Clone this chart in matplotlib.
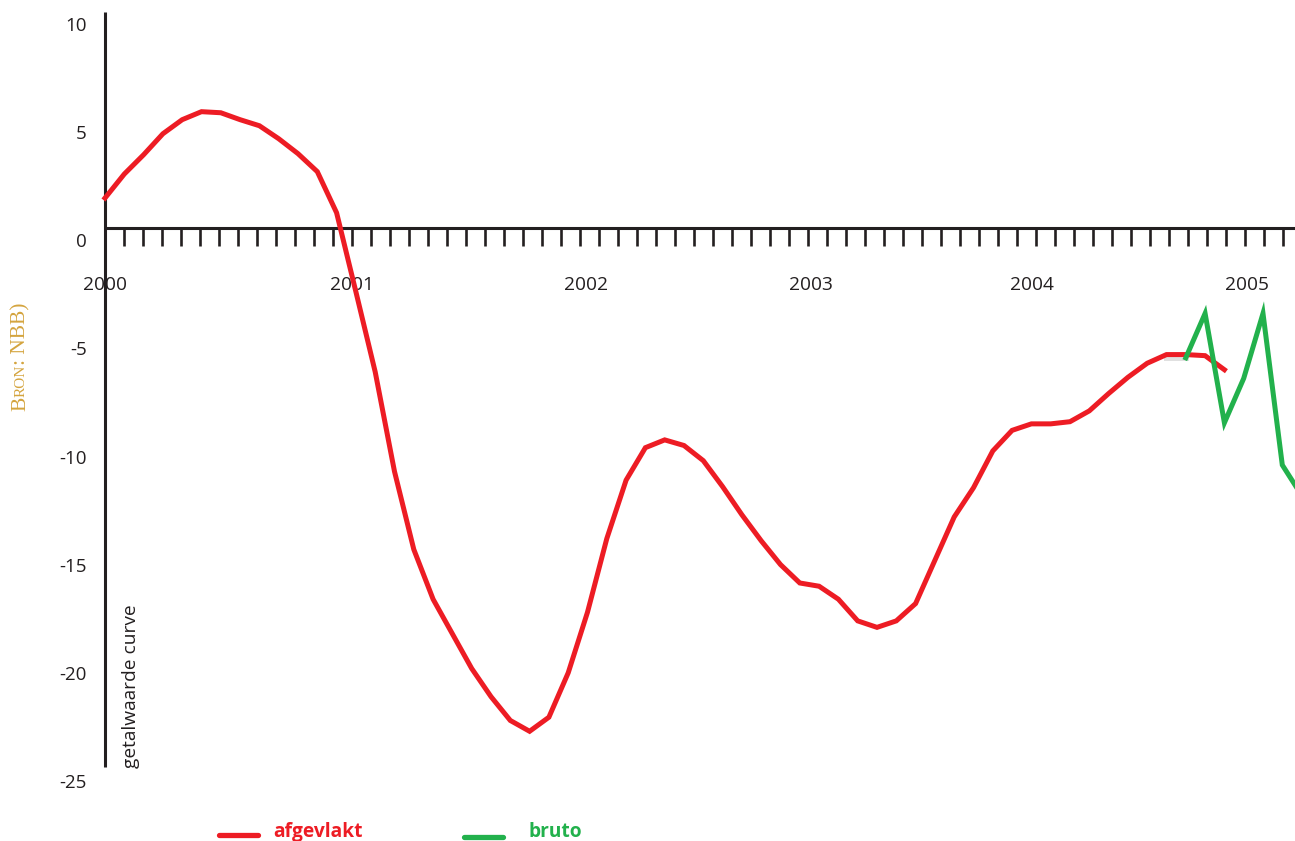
import matplotlib
matplotlib.use("Agg")
import matplotlib.pyplot as plt
from matplotlib.lines import Line2D
import numpy as np

# ---------------- data ----------------
afgevlakt = [2.03, 3.14, 4.03, 5.0, 5.65, 6.02, 5.97, 5.65, 5.37, 4.77, 4.08, 3.25, 1.35,
             -2.3, -6.0, -10.6, -14.2, -16.5, -18.1, -19.7, -21.0, -22.1, -22.6, -21.95,
             -19.9, -17.1, -13.7, -11.0, -9.5, -9.14, -9.4, -10.1, -11.3, -12.6, -13.8,
             -14.9, -15.75, -15.9, -16.5, -17.5, -17.8, -17.5, -16.7, -14.7, -12.7, -11.35,
             -9.65, -8.7, -8.4, -8.4, -8.3, -7.8, -7.0, -6.25, -5.6, -5.2, -5.2, -5.25, -5.9]
bruto_start = 56
bruto = [-5.35, -3.3, -8.35, -6.3, -3.3, -10.3, -11.7]
years = ["2000", "2001", "2002", "2003", "2004", "2005"]
y_ticks = [10, 5, 0, -5, -10, -15, -20, -25]

RED = "#ED1C24"
GREEN = "#22B14C"
BLACK = "#231F20"
GOLD = "#D4A43E"

plt.rcParams["font.family"] = ["Open Sans", "DejaVu Sans"]

W, H = 1295, 841
fig = plt.figure(figsize=(W / 100, H / 100), dpi=100)
ax = fig.add_axes([0, 0, 1, 1])
ax.axis("off")

# pixel <-> data layout helpers
X0, SX = 105.0, 19.3   # x pixel of first month, pixels per month
Y0, SY = 242.0, 21.65  # y pixel of value 0, pixels per unit


def px2x(px):
    return (px - X0) / SX


def py2y(py):
    return (Y0 - py) / SY


ax.set_xlim(px2x(0), px2x(W))
ax.set_ylim(py2y(H), py2y(0))

# axes lines
ax.plot([0, 0], [py2y(12), py2y(767)], color=BLACK, lw=2.2, solid_capstyle="butt", zorder=2)
h = py2y(227.5)
ax.plot([0, px2x(W)], [h, h], color=BLACK, lw=2.2, solid_capstyle="butt", zorder=2)
tick_x = np.arange(1, 63) * 19.0 / SX
ax.vlines(tick_x, py2y(246), h, color=BLACK, lw=1.9, zorder=2)

# y tick labels
for v in y_ticks:
    ax.text(px2x(87), v, f"{v}", ha="right", va="center", fontsize=13.5, color=BLACK)

# year labels
year_px = [105, 351.7, 586, 811, 1031.7, 1246.7]
for lab, px in zip(years, year_px):
    ax.text(px2x(px), py2y(285), lab, ha="center", va="center", fontsize=13.8, color=BLACK)

# data lines
xa = np.arange(len(afgevlakt))
xb = np.arange(bruto_start, bruto_start + len(bruto))
ax.plot(xb[:1] + np.array([-1, 0]), [bruto[0], bruto[0]], color="#E0E0E0", lw=3.6, zorder=2.5)
ax.plot(xa, afgevlakt, color=RED, lw=3.6, solid_joinstyle="miter", zorder=3)
ax.plot(xb, bruto, color=GREEN, lw=3.6, solid_joinstyle="miter", zorder=4)

# vertical axis title
ax.text(px2x(131), py2y(768), "getalwaarde curve", rotation=90, ha="center", va="bottom",
        fontsize=13.8, color=BLACK)

# source "Bron: NBB)" in small caps, gold serif
fig.canvas.draw()
renderer = fig.canvas.get_renderer()
pieces = [("B", 15.5), ("RON", 11), (": NBB)", 15.5)]
base_x = 25 / W
cur_y = 1 - 411 / H
for txt, fs in pieces:
    t = fig.text(base_x, cur_y, txt, rotation=90, rotation_mode="anchor",
                 ha="left", va="baseline", fontsize=fs, color=GOLD,
                 family=["Liberation Serif", "DejaVu Serif"])
    bb = t.get_window_extent(renderer=renderer)
    cur_y += bb.height / H

# legend
leg_y1 = 1 - 835 / H
fig.add_artist(Line2D([219 / W, 258 / W], [leg_y1, leg_y1], transform=fig.transFigure,
                      color=RED, lw=3.8, solid_capstyle="round"))
fig.text(273 / W, 1 - 832 / H, "afgevlakt", ha="left", va="center", fontsize=13.8,
         weight="bold", color=RED)
leg_y2 = 1 - 837 / H
fig.add_artist(Line2D([464 / W, 503 / W], [leg_y2, leg_y2], transform=fig.transFigure,
                      color=GREEN, lw=3.8, solid_capstyle="round"))
fig.text(529 / W, 1 - 832 / H, "bruto", ha="left", va="center", fontsize=13.8,
         weight="bold", color=GREEN)

fig.savefig("out.png", dpi=100)
